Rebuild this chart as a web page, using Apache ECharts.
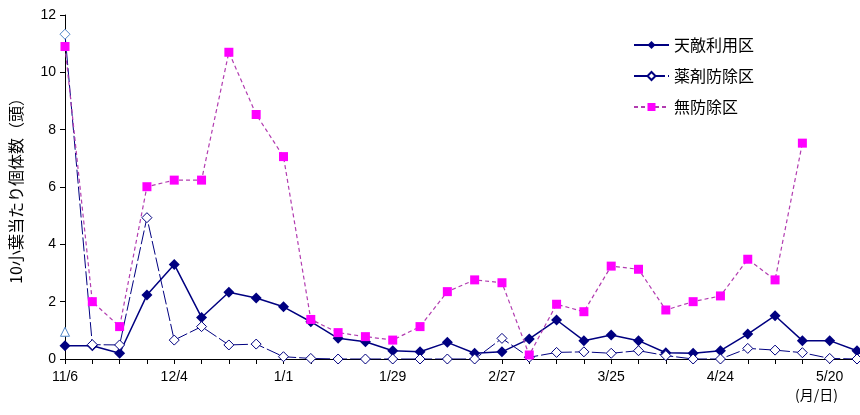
<!DOCTYPE html>
<html>
<head>
<meta charset="utf-8">
<script src="https://cdn.jsdelivr.net/npm/echarts@6/dist/echarts.min.js"></script>
<style>
  html, body { margin: 0; padding: 0; background: #fff; }
  #chart { width: 860px; height: 415px; }
</style>
</head>
<body>
<div id="chart"></div>
<script>
// Weekly survey dates (month/day); only every fourth one is labelled on the axis
const dates = ['11/6','11/13','11/20','11/27','12/4','12/11','12/18','12/25',
  '1/1','1/8','1/15','1/22','1/29','2/5','2/12','2/19','2/27','3/5','3/12','3/18',
  '3/25','4/2','4/9','4/16','4/24','4/30','5/6','5/13','5/20','5/27'];

// Individuals per 10 leaflets
const natEnemy = [0.46,0.46,0.2,2.23,3.3,1.45,2.33,2.13,1.82,1.3,0.72,0.6,0.29,0.25,0.58,0.2,
  0.25,0.7,1.36,0.64,0.84,0.64,0.22,0.2,0.29,0.87,1.51,0.64,0.64,0.29];
const pesticide = [11.33,0.5,0.49,4.93,0.66,1.13,0.49,0.52,0.08,0.02,0,0,0,0,0,0,
  0.72,0.06,0.23,0.25,0.2,0.29,0.12,0,0,0.37,0.31,0.22,0.02,0];
const untreated = [10.9,2.0,1.13,6.01,6.24,6.24,10.7,8.53,7.06,1.38,0.92,0.78,0.66,1.13,2.35,2.76,
  2.66,0.14,1.91,1.65,3.24,3.13,1.71,2.0,2.2,3.48,2.76,7.53,null,null];
// Single early reading drawn as an open triangle on the first date
const earlyCount = [0.95];

const seriesNames = ['天敵利用区', '薬剤防除区', '無防除区'];
const yTicks = { min: 0, max: 12, step: 2 };

const font = "'Liberation Sans', 'Noto Sans CJK JP', sans-serif";
const cjk = "'Noto Sans CJK JP', sans-serif";

const chart = echarts.init(document.getElementById('chart'), null, { renderer: 'canvas' });

chart.setOption({
  animation: false,
  backgroundColor: '#fff',
  grid: { left: 63, right: 3, top: 15, bottom: 56 },
  legend: {
    data: seriesNames,
    orient: 'vertical',
    left: 628,
    top: 32,
    itemWidth: 35,
    itemHeight: 10,
    itemGap: 15,
    textStyle: { fontFamily: cjk, fontSize: 16, color: '#000' }
  },
  xAxis: {
    type: 'category',
    data: dates,
    boundaryGap: false,
    axisLine: { lineStyle: { color: '#000', width: 1 } },
    axisTick: { interval: 0, length: 5, lineStyle: { color: '#000' } },
    axisLabel: { interval: 3, color: '#000', fontFamily: font, fontSize: 14, margin: 11 },
    splitLine: { show: false }
  },
  yAxis: {
    type: 'value',
    min: yTicks.min,
    max: yTicks.max,
    interval: yTicks.step,
    name: '10小葉当たり個体数（頭）',
    nameLocation: 'middle',
    nameRotate: 90,
    nameGap: 41,
    nameTextStyle: { fontFamily: cjk, fontSize: 16, color: '#000' },
    axisLine: { show: true, lineStyle: { color: '#000', width: 1 } },
    axisTick: { show: true, inside: false, length: 5, lineStyle: { color: '#000' } },
    axisLabel: { color: '#000', fontFamily: font, fontSize: 14, margin: 9 },
    splitLine: { show: false }
  },
  graphic: [{
    type: 'text',
    left: 795,
    top: 388,
    style: { text: '(月/日)', fontFamily: cjk, fontSize: 14, fill: '#000' }
  }],
  series: [
    {
      name: seriesNames[0],
      type: 'line',
      data: natEnemy,
      symbol: 'diamond',
      symbolSize: 11,
      itemStyle: { color: '#000080' },
      lineStyle: { color: '#000080', width: 1.5 },
      z: 2
    },
    {
      name: seriesNames[1],
      type: 'line',
      data: pesticide.map((v, i) => i === 0
        ? { value: v, itemStyle: { borderColor: '#4f86c6' } }
        : v),
      symbol: 'diamond',
      symbolSize: 10,
      itemStyle: { color: '#fff', borderColor: '#000080', borderWidth: 1 },
      lineStyle: { color: '#000080', width: 1, type: [14, 3] },
      z: 3
    },
    {
      name: seriesNames[2],
      type: 'line',
      data: untreated,
      symbol: 'rect',
      symbolSize: 9,
      connectNulls: false,
      itemStyle: { color: '#ff00ff' },
      lineStyle: { color: '#b23cb0', width: 1.2, type: [4, 3] },
      z: 4
    },
    {
      name: '初期値',
      type: 'line',
      data: earlyCount,
      symbol: 'triangle',
      symbolSize: 9,
      itemStyle: { color: '#fff', borderColor: '#4f86c6', borderWidth: 1 },
      lineStyle: { width: 0 },
      z: 5
    }
  ]
});
</script>
</body>
</html>
